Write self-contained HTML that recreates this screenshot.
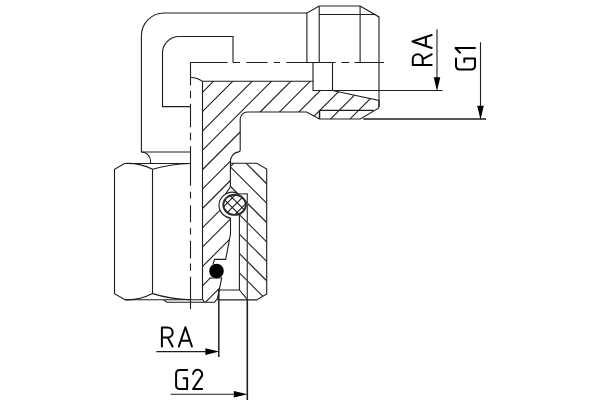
<!DOCTYPE html>
<html><head><meta charset="utf-8"><title>Fitting</title>
<style>
html,body{margin:0;padding:0;background:#fff;}
body{width:600px;height:400px;overflow:hidden;font-family:"Liberation Sans",sans-serif;}
svg{display:block}
</style></head><body>
<svg width="600" height="400" viewBox="0 0 600 400">
<rect width="600" height="400" fill="#fff"/>
<defs>
<clipPath id="cb"><path d="M202.5,81.3 H313 V90.5 H332.5 L379,100.4 V107 L378.5,108.1 L360.3,119 H319.4 L306.5,111.95 H247.5 A7.3,7.3 0 0 0 240.2,119.25 V150 Q240.2,151.9 238.6,151.9 A9.3,9.3 0 0 0 230.4,161.3 V187 L225.6,193.9 A13,13 0 0 0 230.5,218.1 V233.75 L225.7,259.4 H214.5 L213,264.7 A7.2,7.2 0 0 0 210.6,278 H221.7 L217.5,298.2 L214.5,302.3 H204.3 L202.5,299 Z"/></clipPath>
<clipPath id="cn"><path d="M230.5,163.2 H256.7 L266.7,169 V294 L256.7,299.4 H247.5 L239.4,290.2 V214.6 L245,205 L237,196 L230.5,189.5 Z"/></clipPath>
<clipPath id="co"><ellipse cx="234.6" cy="204.8" rx="11.1" ry="9.9"/></clipPath>
</defs>
<g fill="none" stroke="#1e1e1e" stroke-width="1.1" stroke-linecap="butt" stroke-linejoin="miter">
<!-- hatching -->
<g clip-path="url(#cb)">
<line x1="-105.30" y1="400" x2="294.70" y2="0"/>
<line x1="-85.94" y1="400" x2="314.06" y2="0"/>
<line x1="-66.58" y1="400" x2="333.42" y2="0"/>
<line x1="-47.22" y1="400" x2="352.78" y2="0"/>
<line x1="-27.86" y1="400" x2="372.14" y2="0"/>
<line x1="-8.50" y1="400" x2="391.50" y2="0"/>
<line x1="10.86" y1="400" x2="410.86" y2="0"/>
<line x1="30.22" y1="400" x2="430.22" y2="0"/>
<line x1="49.58" y1="400" x2="449.58" y2="0"/>
<line x1="68.94" y1="400" x2="468.94" y2="0"/>
<line x1="88.30" y1="400" x2="488.30" y2="0"/>
<line x1="107.66" y1="400" x2="507.66" y2="0"/>
<line x1="127.02" y1="400" x2="527.02" y2="0"/>
</g>
<g clip-path="url(#cn)">
<line x1="-52.90" y1="0" x2="347.10" y2="400"/>
<line x1="-33.50" y1="0" x2="366.50" y2="400"/>
<line x1="-14.10" y1="0" x2="385.90" y2="400"/>
<line x1="5.30" y1="0" x2="405.30" y2="400"/>
<line x1="24.70" y1="0" x2="424.70" y2="400"/>
<line x1="44.10" y1="0" x2="444.10" y2="400"/>
<line x1="63.50" y1="0" x2="463.50" y2="400"/>
<line x1="82.90" y1="0" x2="482.90" y2="400"/>
<line x1="102.30" y1="0" x2="502.30" y2="400"/>
</g>
<!-- body section outline -->
<path d="M213,264.7 L214.5,259.4 H225.7 L230.5,233.75 V218.1 A13,13 0 0 1 225.6,193.9 L230.4,187 V161.3 A9.3,9.3 0 0 1 238.6,151.9 Q240.2,151.9 240.2,150 V119.25 A7.3,7.3 0 0 1 247.5,111.95 H306.5 L319.4,119 H360.3 L378.5,108.1 L379,107 V100.4 L332.5,90.5 H313 V81.3 H202.5 V299 L204.3,302.3 H214.5 L217.5,298.2 L221.7,278 H209.6"/>
<path d="M225.6,193.9 A13,13 0 0 1 237.6,193.47"/>
<path d="M230.5,166.3 L233.6,163.4"/>
<!-- thread inner line of the male end -->
<path d="M319.5,119 V110.4" stroke-width="1.5"/><path d="M319.5,110.4 H373.5"/>
<!-- elbow outer -->
<path d="M306.9,13 H164.1 A22.7,22.7 0 0 0 141.4,35.7 V152 H190.5"/>
<path d="M233,62.5 V36.5 H179 A16.5,16.5 0 0 0 162.5,53 V106.6 H190.5"/>
<path d="M141.6,152 A9,9 0 0 1 150.5,161 V163.5"/>
<!-- bore -->
<path d="M227.5,62.5 H190.5 V85.6"/>
<path d="M190.5,77.2 Q197.5,77.6 202.4,81.4"/>
<!-- male end -->
<path d="M306.9,62.5 V13 L319.2,6 H360.1 L379,16.9 V107"/>
<path d="M319.2,6 V62.5 M360.1,6 V62.5 M319.2,14.5 H375"/>
<path d="M313,81.3 V62.5 M332.5,62.5 V90.5 H442.5"/>
<!-- centerline horizontal -->
<path d="M233,62.5 H240 M246.3,62.5 H267.5 M273.7,62.5 H280 M286.3,62.5 H335.6 M341.4,62.5 H349.3 M354.5,62.5 H384"/>
<!-- centerline vertical -->
<path d="M190.5,90.8 V98.3 M190.5,103.7 V127.2 M190.5,132.7 V140.2 M190.5,146.2 V185.7 M190.5,191.7 V198.5 M190.5,205.2 V222.3 M190.5,228.2 V234.5 M190.5,240.8 V258.4 M190.5,263.4 V270.7 M190.5,276.7 V309"/>
<!-- nut left -->
<path d="M190.5,163.5 H124.5 L114.5,169.2 V293.6 L125,299.8 H202.4"/>
<path d="M152.5,169.2 V293.6"/>
<path d="M124.5,163.5 C135,162.9 144,165 152.5,169.2 Q170,164.2 190.5,163.5"/>
<path d="M125,299.8 C135,300.3 144,298 152.5,293.6 Q170,299 190.5,299.8"/>
<path d="M164,300 L167,302.3 H204.3"/>
<!-- nut right -->
<path d="M230.5,163.2 H256.7 L266.7,169 V294 L256.7,299.9 H217.3"/>
<path d="M239.4,214.6 V290 H219 M239.4,290 L247.5,299.6"/>
<path d="M238,193.9 H247.3 V300" stroke="#4a4a4a" stroke-width="1.35"/>
<path d="M247.3,299.5 V400" stroke-width="1.6"/>
<path d="M218.8,289.8 V357" stroke-width="1.5"/>
<!-- o-ring -->
<ellipse cx="234.6" cy="204.8" rx="11.3" ry="10.1" fill="#fff" stroke="#2e2e2e" stroke-width="1.9"/>
<g clip-path="url(#co)" stroke-width="1.1">
<line x1="20.50" y1="400" x2="420.50" y2="0"/>
<line x1="30.18" y1="400" x2="430.18" y2="0"/>
<line x1="39.86" y1="400" x2="439.86" y2="0"/>
<line x1="49.54" y1="400" x2="449.54" y2="0"/>
<line x1="59.22" y1="400" x2="459.22" y2="0"/>
<line x1="15.10" y1="0" x2="415.10" y2="400"/>
<line x1="24.80" y1="0" x2="424.80" y2="400"/>
<line x1="34.50" y1="0" x2="434.50" y2="400"/>
<line x1="44.20" y1="0" x2="444.20" y2="400"/>
<line x1="53.90" y1="0" x2="453.90" y2="400"/>
</g>
<!-- dot -->
<circle cx="216.5" cy="271" r="7.3" fill="#000" stroke="none"/>
<!-- dims -->
<path d="M437,29.3 V80"/>
<path d="M480.5,42.3 V108"/>
<path d="M363.3,119 H486" stroke-width="1.4"/>
<path d="M156.3,351.6 H208"/>
<path d="M170.5,394.3 H236"/>
<g fill="#000" stroke="none">
<path d="M437,91 L433.7,77.3 H440.3 Z"/>
<path d="M480.5,119.7 L477.2,105.8 H483.8 Z"/>
<path d="M219.2,351.6 L205.4,348.3 V354.9 Z"/>
<path d="M247.6,394.3 L233.8,391 V397.6 Z"/>
</g>
<!-- text -->
<g stroke-width="2" stroke-linecap="round" stroke-linejoin="round" stroke="#000">
<g id="tRA" transform="translate(161.9,346.55)">
<path d="M0,0 V-18.95 H5.8 A4.97,4.97 0 0 1 5.8,-9 H0 M5.85,-9 L10.7,0"/>
<path d="M16.95,0 L23.5,-19.25 L30,0 M19.1,-5.85 H27.9"/>
</g>
<g transform="translate(431.7,65) rotate(-90)">
<path d="M0,0 V-18.95 H5.8 A4.97,4.97 0 0 1 5.8,-9 H0 M5.85,-9 L10.7,0"/>
<path d="M16.95,0 L23.5,-19.25 L30,0 M19.1,-5.85 H27.9"/>
</g>
<g transform="translate(176.1,389.05)">
<path d="M11,-19 H3.4 A3.4,3.4 0 0 0 0,-15.6 V-3.4 A3.4,3.4 0 0 0 3.4,0 H11 V-10.7 H7.5"/>
<path d="M17,-15 A4.5,4.5 0 0 1 26,-14.5 V-13.4 L17,0 H26"/>
</g>
<g transform="translate(475,69.5) rotate(-90)">
<path d="M11,-19 H3.4 A3.4,3.4 0 0 0 0,-15.6 V-3.4 A3.4,3.4 0 0 0 3.4,0 H11 V-10.7 H7.5"/>
<path d="M16.7,-15 L21.5,-19.5 V0"/>
</g>
</g>
</g>
</svg>
</body></html>
